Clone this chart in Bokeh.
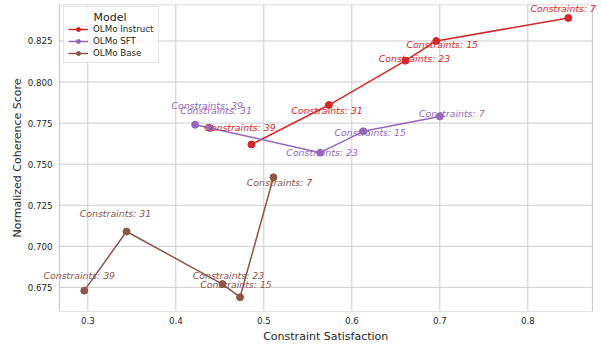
from bokeh.plotting import figure
from bokeh.models import Range1d, FixedTicker, Legend, LegendItem, Label
from bokeh.embed import file_html
from bokeh.resources import INLINE

# Constraint counts shared by all three models
constraints = [7, 15, 23, 31, 39]

instruct_x = [0.846, 0.696, 0.661, 0.574, 0.486]
instruct_y = [0.839, 0.825, 0.813, 0.786, 0.762]

sft_x = [0.700, 0.613, 0.564, 0.439, 0.422]
sft_y = [0.779, 0.770, 0.757, 0.772, 0.774]

base_x = [0.511, 0.473, 0.453, 0.344, 0.296]
base_y = [0.742, 0.669, 0.677, 0.709, 0.673]

x_ticks = [0.3, 0.4, 0.5, 0.6, 0.7, 0.8]
y_ticks = [0.675, 0.700, 0.725, 0.750, 0.775, 0.800, 0.825]

# axes box limits; the canvas frame is a little wider so that the point
# annotations near the edges can spill past the box without being clipped
X_LO, X_HI = 0.2678, 0.8735
Y_LO, Y_HI = 0.6603, 0.8472

FONT = "DejaVu Sans"
TEXT = "#262626"
GRID = "#cccccc"

# pixel nudges for the point annotations (right / up), one per constraint count
instruct_dx = [-5, 6, 9, -2, -11.5]
instruct_dy = [9, -4, 2, -5, 17]
sft_dx = [12, 7, 2, 6, 12]
sft_dy = [3, -1, 0, 18, 19]
base_dx = [6, -4, 6, -11, -5]
base_dy = [-5, 13, 9, 18, 15]

p = figure(
    width=601, height=345,
    output_backend="svg", toolbar_location=None,
    x_range=Range1d(0.24625, 0.88261), y_range=Range1d(Y_LO, Y_HI),
    min_border_left=40, min_border_right=1, min_border_top=4, min_border_bottom=32,
    background_fill_color="white", border_fill_color="white",
)
p.outline_line_color = None
p.grid.grid_line_color = None

for ax in (p.xaxis, p.yaxis):
    ax.axis_line_color = None
    ax.major_tick_line_color = None
    ax.minor_tick_line_color = None
    ax.major_tick_out = 0
    ax.major_tick_in = 0
    ax.minor_tick_out = 0
    ax.major_label_text_font = FONT
    ax.major_label_text_font_size = "8.7px"
    ax.major_label_text_color = TEXT
    ax.axis_label_text_font = FONT
    ax.axis_label_text_font_size = "11px"
    ax.axis_label_text_font_style = "normal"
    ax.axis_label_text_color = TEXT

p.xaxis.ticker = FixedTicker(ticks=x_ticks)
p.yaxis.ticker = FixedTicker(ticks=y_ticks)
p.xaxis.major_label_overrides = {t: f"{t:.1f}" for t in x_ticks}
p.yaxis.major_label_overrides = {t: f"{t:.3f}" for t in y_ticks}
p.xaxis.major_label_standoff = 5
p.yaxis.major_label_standoff = -12
# leading no-break spaces centre the title under the axes box rather than the wider frame
p.xaxis.axis_label = "\u00a0\u00a0\u00a0Constraint Satisfaction"
p.yaxis.axis_label = "Normalized Coherence Score"
p.xaxis.axis_label_standoff = 3
p.yaxis.axis_label_standoff = 1

# grid and box drawn inside the axes limits
p.segment(x0=x_ticks, x1=x_ticks, y0=Y_LO, y1=Y_HI, line_color=GRID, line_width=1)
p.segment(x0=X_LO, x1=X_HI, y0=y_ticks, y1=y_ticks, line_color=GRID, line_width=1)
p.quad(left=[X_LO], right=[X_HI], bottom=[Y_LO], top=[Y_HI],
       fill_color=None, line_color=GRID, line_width=1.25)

series = [
    ("OLMo Instruct", "#d62728", instruct_x, instruct_y, instruct_dx, instruct_dy),
    ("OLMo SFT", "#9467bd", sft_x, sft_y, sft_dx, sft_dy),
    ("OLMo Base", "#8c564b", base_x, base_y, base_dx, base_dy),
]

items = []
for name, color, xs, ys, dxs, dys in series:
    ln = p.line(xs, ys, line_color=color, line_width=1.5)
    pt = p.scatter(xs, ys, size=7, fill_color=color, line_color=color)
    for c, x, y, dx, dy in zip(constraints, xs, ys, dxs, dys):
        p.add_layout(Label(
            x=x, y=y, x_offset=dx, y_offset=dy, text=f"Constraints: {c}",
            text_font=FONT, text_font_size="9.4px", text_font_style="italic",
            text_color=color, text_align="center", text_baseline="middle",
        ))
    items.append(LegendItem(label=name, renderers=[ln, pt]))

# en/no-break spaces push the title to the middle of the legend box
legend = Legend(
    items=items, location=(23, 248), title="\u2002\u2002\u2002\u2002\u00a0Model",
    margin=0, padding=4, spacing=2, label_height=10, glyph_height=10, glyph_width=20,
    label_standoff=5, title_standoff=0,
    label_text_font=FONT, label_text_font_size="8.7px", label_text_color=TEXT,
    title_text_font=FONT, title_text_font_size="11px", title_text_font_style="normal",
    title_text_color=TEXT,
    border_line_color=GRID, border_line_width=1,
    background_fill_color="white", background_fill_alpha=0.8,
)
p.add_layout(legend)

open("out.html", "w").write(file_html(p, INLINE))
